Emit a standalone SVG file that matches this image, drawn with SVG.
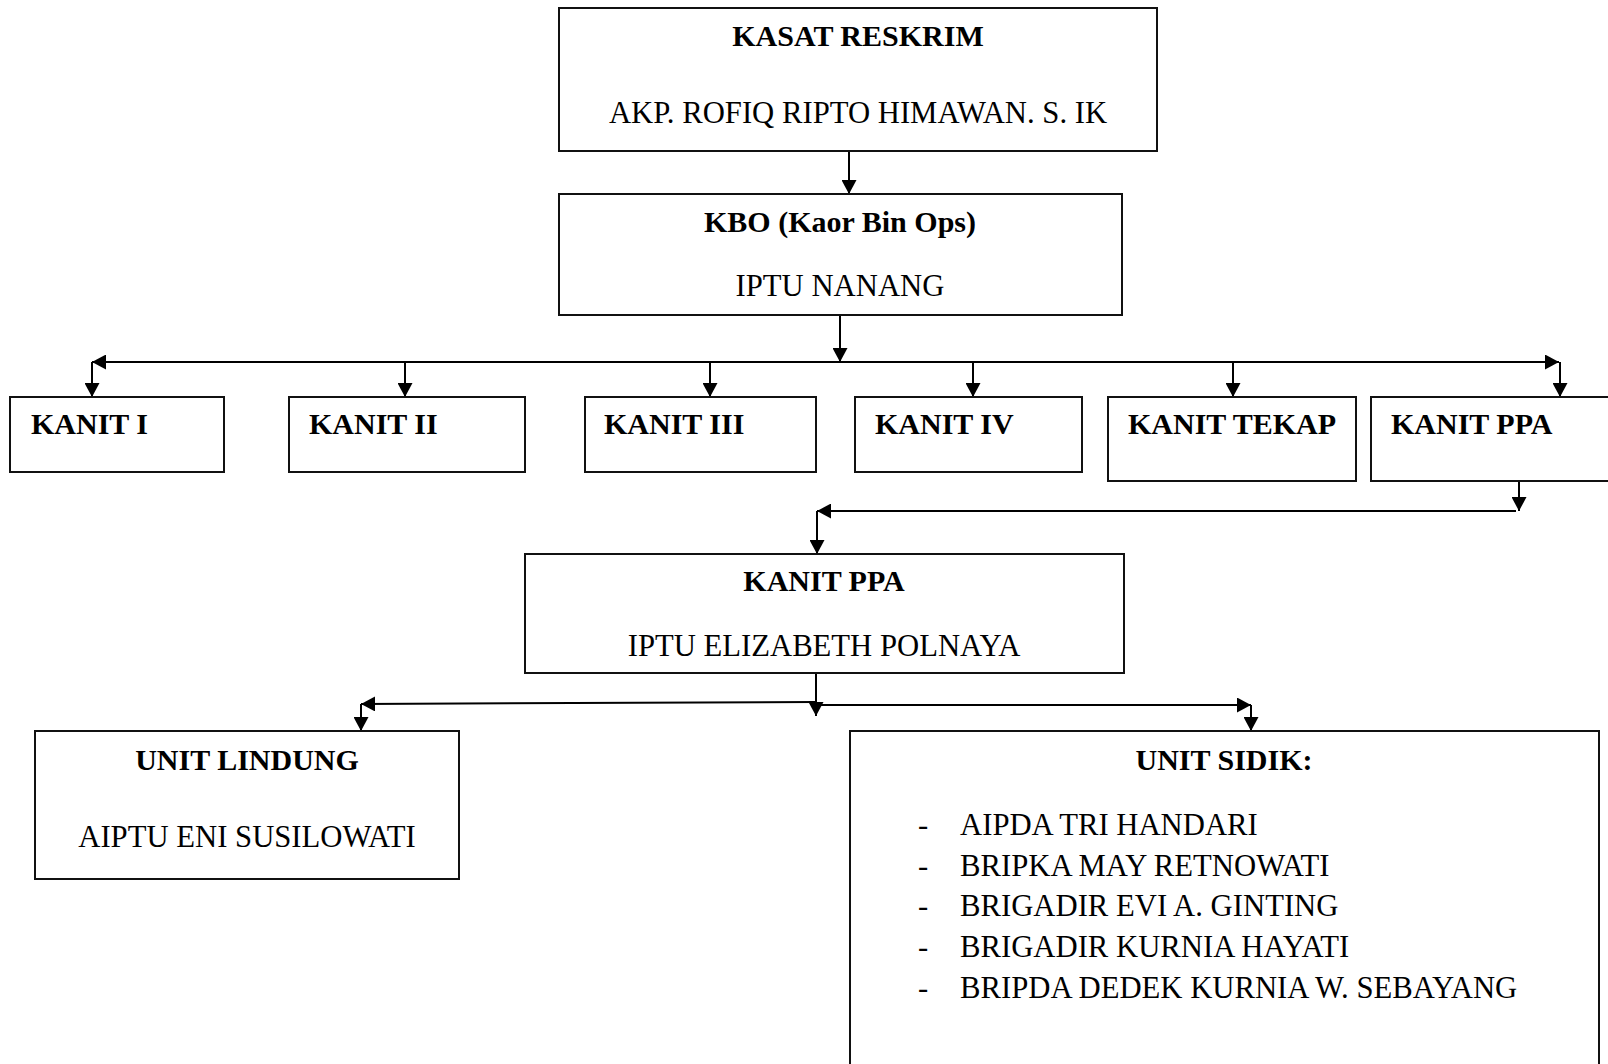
<svg xmlns="http://www.w3.org/2000/svg" width="1608" height="1064" viewBox="0 0 1608 1064">
<style>
.box{fill:#fff;stroke:#111;stroke-width:2}
.t{font-family:"Liberation Serif","Times New Roman",serif;font-size:30.7px;fill:#000}
.b{font-weight:bold;font-size:30px}
.c{text-anchor:middle}
.ln{fill:none;stroke:#000;stroke-width:2}
</style>
<defs>
<marker id="ah" markerUnits="userSpaceOnUse" markerWidth="15" markerHeight="15" refX="14" refY="7.5" orient="auto">
<path d="M0,0 L14,7.5 L0,15 z" fill="#000"/>
</marker>
</defs>
<rect width="1608" height="1064" fill="#fff"/>
<g id="connectors">
<path class="ln" d="M849,151 V194" marker-end="url(#ah)"/>
<path class="ln" d="M840,315 V362" marker-end="url(#ah)"/>
<path class="ln" d="M840,362 H92" marker-end="url(#ah)"/>
<path class="ln" d="M840,362 H1559" marker-end="url(#ah)"/>
<path class="ln" d="M92,362 V397" marker-end="url(#ah)"/>
<path class="ln" d="M405,362 V397" marker-end="url(#ah)"/>
<path class="ln" d="M710,362 V397" marker-end="url(#ah)"/>
<path class="ln" d="M973,362 V397" marker-end="url(#ah)"/>
<path class="ln" d="M1233,362 V397" marker-end="url(#ah)"/>
<path class="ln" d="M1560,362 V397" marker-end="url(#ah)"/>
<path class="ln" d="M1519,481 V511" marker-end="url(#ah)"/>
<path class="ln" d="M1516,511 H817" marker-end="url(#ah)"/>
<path class="ln" d="M817,511 V554" marker-end="url(#ah)"/>
<path class="ln" d="M816,673 V716" marker-end="url(#ah)"/>
<path class="ln" d="M816,702 L361,704" marker-end="url(#ah)"/>
<path class="ln" d="M816,705 H1251" marker-end="url(#ah)"/>
<path class="ln" d="M361,704 V731" marker-end="url(#ah)"/>
<path class="ln" d="M1251,705 V731" marker-end="url(#ah)"/>
</g>
<g id="kasat">
<rect class="box" x="559" y="8" width="598" height="143"/>
<text class="t b c" x="858" y="46">KASAT RESKRIM</text>
<text class="t c" x="858" y="123">AKP. ROFIQ RIPTO HIMAWAN. S. IK</text>
</g>
<g id="kbo">
<rect class="box" x="559" y="194" width="563" height="121"/>
<text class="t b c" x="840" y="232">KBO (Kaor Bin Ops)</text>
<text class="t c" x="840" y="296">IPTU NANANG</text>
</g>
<g id="kanit1">
<rect class="box" x="10" y="397" width="214" height="75"/>
<text class="t b" x="31" y="434">KANIT I</text>
</g>
<g id="kanit2">
<rect class="box" x="289" y="397" width="236" height="75"/>
<text class="t b" x="309" y="434">KANIT II</text>
</g>
<g id="kanit3">
<rect class="box" x="585" y="397" width="231" height="75"/>
<text class="t b" x="604" y="434">KANIT III</text>
</g>
<g id="kanit4">
<rect class="box" x="855" y="397" width="227" height="75"/>
<text class="t b" x="875" y="434">KANIT IV</text>
</g>
<g id="kanit-tekap">
<rect class="box" x="1108" y="397" width="248" height="84"/>
<text class="t b" x="1128" y="434">KANIT TEKAP</text>
</g>
<g id="kanit-ppa">
<rect class="box" x="1371" y="397" width="250" height="84"/>
<text class="t b" x="1391" y="434">KANIT PPA</text>
</g>
<g id="kanit-ppa-2">
<rect class="box" x="525" y="554" width="599" height="119"/>
<text class="t b c" x="824" y="591">KANIT PPA</text>
<text class="t c" x="824" y="656">IPTU ELIZABETH POLNAYA</text>
</g>
<g id="unit-lindung">
<rect class="box" x="35" y="731" width="424" height="148"/>
<text class="t b c" x="247" y="770">UNIT LINDUNG</text>
<text class="t c" x="247" y="847">AIPTU ENI SUSILOWATI</text>
</g>
<g id="unit-sidik">
<rect class="box" x="850" y="731" width="749" height="345"/>
<text class="t b c" x="1224" y="770">UNIT SIDIK:</text>
<text class="t" x="918" y="835">-</text><text class="t" x="960" y="835">AIPDA TRI HANDARI</text>
<text class="t" x="918" y="876">-</text><text class="t" x="960" y="876">BRIPKA MAY RETNOWATI</text>
<text class="t" x="918" y="916">-</text><text class="t" x="960" y="916">BRIGADIR EVI A. GINTING</text>
<text class="t" x="918" y="957">-</text><text class="t" x="960" y="957">BRIGADIR KURNIA HAYATI</text>
<text class="t" x="918" y="998">-</text><text class="t" x="960" y="998">BRIPDA DEDEK KURNIA W. SEBAYANG</text>
</g>
</svg>
